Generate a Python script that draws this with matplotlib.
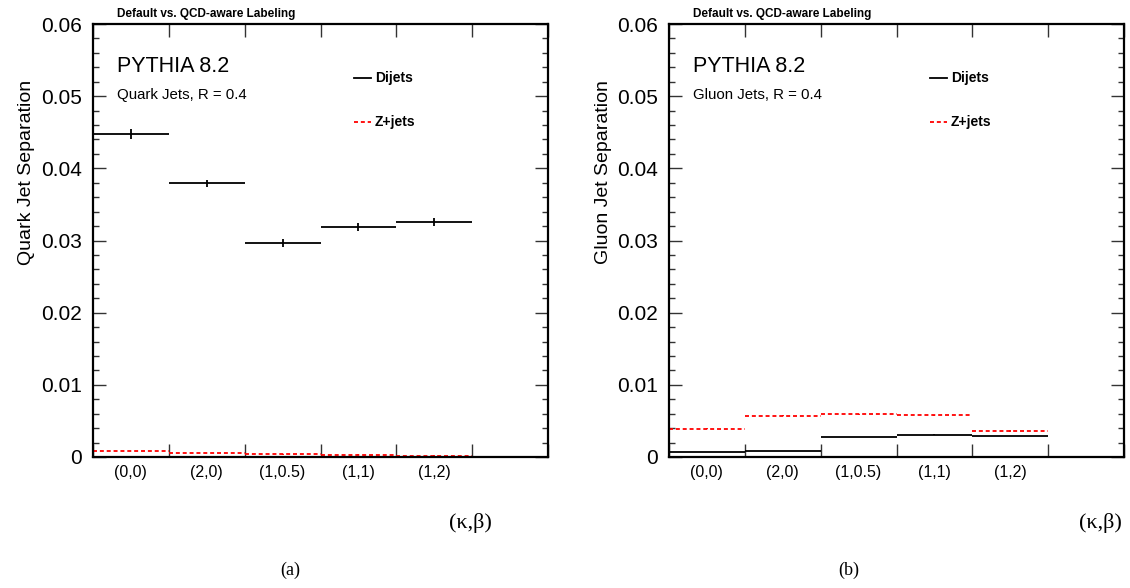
import numpy as np
import matplotlib.pyplot as plt
from matplotlib.ticker import MultipleLocator, FixedLocator, NullFormatter

plt.rcParams['font.family'] = ['Liberation Sans', 'DejaVu Sans']

labels = ['(0,0)', '(2,0)', '(1,0.5)', '(1,1)', '(1,2)']

# separation per (kappa, beta) choice
quark_dijets = [0.0448, 0.0379, 0.0297, 0.0319, 0.0326]
quark_dijets_err = [0.0007, 0.00055, 0.00055, 0.00055, 0.00055]
quark_zjets = [0.0008, 0.00055, 0.00037, 0.00032, 0.00018]
quark_zjets_err = [0.00003, 0.00003, 0.00003, 0.00003, 0.00003]

gluon_dijets = [0.0007, 0.0008, 0.0028, 0.0031, 0.0029]
gluon_dijets_err = [0.00003, 0.00003, 0.00004, 0.00004, 0.00004]
gluon_zjets = [0.0039, 0.0057, 0.0059, 0.0058, 0.0036]
gluon_zjets_err = [0.00008, 0.00008, 0.00008, 0.00008, 0.00008]

W, H = 1130, 588
fig = plt.figure(figsize=(W / 100, H / 100), dpi=100)
serif = ['Liberation Serif', 'DejaVu Serif']
dash = (0, (2.2, 1.6))


def hist_err(ax, vals, errs, color, ls):
    edges = np.arange(len(vals) + 1)
    centers = edges[:-1] + 0.5
    ax.hlines(vals, edges[:-1], edges[1:], colors=color, linestyles=[ls], lw=1.3)
    lo = np.array(vals) - np.array(errs)
    hi = np.array(vals) + np.array(errs)
    ax.vlines(centers, lo, hi, colors=color, lw=1.3)


def panel(left_px, kind, dij, dij_err, zj, zj_err, caption, kb_right, cap_x):
    ax = fig.add_axes([left_px / W, (H - 457) / H, 455 / W, 433 / H])
    hist_err(ax, dij, dij_err, 'black', 'solid')
    hist_err(ax, zj, zj_err, 'red', dash)
    ax.set_xlim(0, 6)
    ax.set_ylim(0, 0.06)

    ax.xaxis.set_major_locator(FixedLocator(range(7)))
    ax.xaxis.set_major_formatter(NullFormatter())
    ax.xaxis.set_minor_locator(FixedLocator(np.arange(len(labels)) + 0.5))
    ax.set_xticklabels(labels, minor=True)
    ax.yaxis.set_major_locator(MultipleLocator(0.01))
    ax.yaxis.set_minor_locator(MultipleLocator(0.002))
    ax.set_yticklabels(['0' if v == 0 else '%.2f' % v for v in ax.get_yticks()])

    ax.tick_params(axis='both', which='both', direction='in', top=True, right=True,
                   width=1.0, color='#333333')
    ax.tick_params(axis='y', which='major', length=9.5, labelsize=15, pad=8)
    ax.tick_params(axis='y', which='minor', length=4.5)
    ax.tick_params(axis='x', which='major', length=9.5)
    ax.tick_params(axis='x', which='minor', length=0, labelsize=11.5, pad=6)
    for s in ax.spines.values():
        s.set_linewidth(1.6)

    ax.text(24 / 455, 1 - 42 / 433, 'PYTHIA 8.2', transform=ax.transAxes,
            fontsize=15.5, va='center', ha='left')
    ax.text(24 / 455, 1 - 71 / 433, kind + ' Jets, R = 0.4', transform=ax.transAxes,
            fontsize=10.8, va='center', ha='left')

    # legend entries
    for yy, col, ls, name in [(78, 'black', 'solid', 'Dijets'),
                              (122, 'red', dash, 'Z+jets')]:
        fy = 1 - (yy - 24) / 433
        ax.plot([261 / 455, 278 / 455], [fy, fy], color=col, ls=ls, lw=1.3,
                transform=ax.transAxes, clip_on=False)
        ax.text(282 / 455, fy, name, transform=ax.transAxes, fontsize=10,
                fontweight='bold', va='center', ha='left')

    fig.text((left_px + 24) / W, 1 - 14 / H, 'Default vs. QCD-aware Labeling',
             fontsize=8.5, fontweight='bold', ha='left', va='center')
    fig.text((left_px - 66) / W, 1 - 80 / H, kind + ' Jet Separation', rotation=90,
             fontsize=14, ha='center', va='top')
    fig.text(kb_right / W, 1 - 523 / H, '(\u03ba,\u03b2)', fontsize=16,
             family=serif, ha='right', va='center')
    fig.text(cap_x / W, 1 - 570 / H, caption, fontsize=13,
             family=serif, ha='center', va='center')
    return ax


panel(93, 'Quark', quark_dijets, quark_dijets_err, quark_zjets, quark_zjets_err,
      '(a)', 492, 290)
panel(669, 'Gluon', gluon_dijets, gluon_dijets_err, gluon_zjets, gluon_zjets_err,
      '(b)', 1122, 849)

fig.savefig('out.png', dpi=100)
